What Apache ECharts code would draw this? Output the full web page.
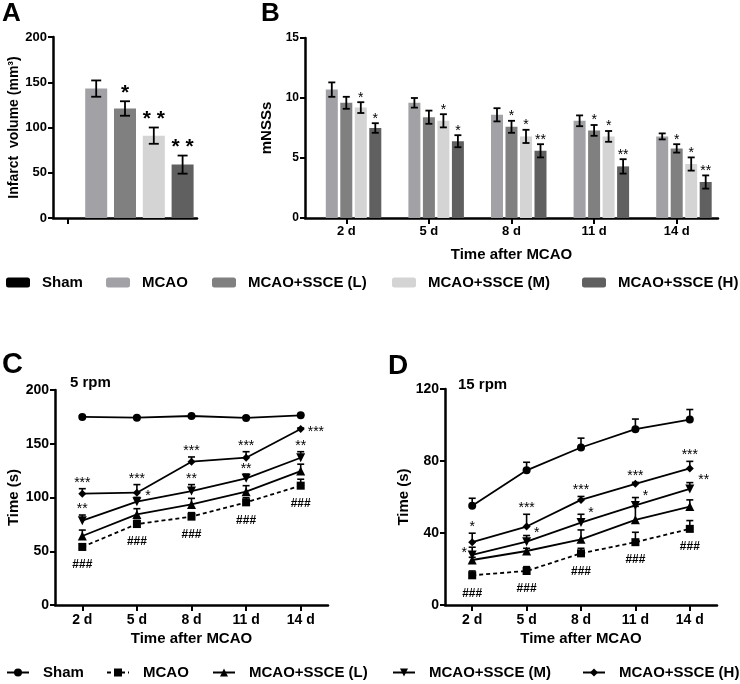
<!DOCTYPE html>
<html>
<head>
<meta charset="utf-8">
<script src="https://cdn.jsdelivr.net/npm/echarts@6/dist/echarts.min.js"></script>
<style>
html,body{margin:0;padding:0;background:#fff;}
#chart{width:740px;height:684px;}
</style>
</head>
<body>
<div id="chart"></div>
<script>
// ---------- DATA ----------
const groupNames = ['Sham', 'MCAO', 'MCAO+SSCE (L)', 'MCAO+SSCE (M)', 'MCAO+SSCE (H)'];
const days = ['2 d', '5 d', '8 d', '11 d', '14 d'];

// Panel A: infarct volume (mm3)
const infarctMean = [null, 143, 121, 91, 59];
const infarctErr  = [null, 9, 8, 9, 10];
const infarctSig  = ['', '', '*', '**', '**'];

// Panel B: mNSSs
const nssMCAO = [10.7, 9.6, 8.6, 8.1, 6.8];
const nssL    = [9.6, 8.4, 7.6, 7.3, 5.8];
const nssM    = [9.2, 8.1, 6.8, 6.8, 4.5];
const nssH    = [7.5, 6.4, 5.6, 4.3, 3.0];
const nssMCAOErr = [0.6, 0.4, 0.55, 0.45, 0.25];
const nssLErr    = [0.5, 0.55, 0.5, 0.45, 0.35];
const nssMErr    = [0.45, 0.55, 0.55, 0.45, 0.55];
const nssHErr    = [0.4, 0.5, 0.55, 0.6, 0.55];
const nssLSig = ['', '', '*', '*', '*'];
const nssMSig = ['*', '*', '*', '*', '*'];
const nssHSig = ['*', '*', '**', '**', '**'];

// Panel C: rotarod 5 rpm (s)
const rod5Sham = [175, 174.3, 175.8, 174, 176.4];
const rod5MCAO = [54, 75.3, 82.2, 95.5, 111];
const rod5L    = [64.2, 84.3, 93.6, 105.4, 124.6];
const rod5M    = [78.4, 96.1, 106, 117.8, 137];
const rod5H    = [103.6, 104.5, 133.3, 137, 163.7];
const rod5ShamErr = [1, 1, 1, 1, 1];
const rod5MCAOErr = [3, 3.5, 3.7, 4.3, 6];
const rod5LErr    = [5.5, 5.3, 5.6, 5.6, 6.4];
const rod5MErr    = [5.3, 4, 6, 4, 5.6];
const rod5HErr    = [4.6, 7.5, 4.4, 5.6, 1];
const rod5HSig    = ['***', '***', '***', '***', '***'];
const rod5MSig    = ['**', '*', '**', '**', '**'];
const rod5MCAOSig = ['###', '###', '###', '###', '###'];

// Panel D: rotarod 15 rpm (s)
const rod15Sham = [55.1, 74.8, 87.5, 97.7, 103];
const rod15MCAO = [16.5, 18.9, 28.7, 34.9, 42.3];
const rod15L    = [25, 30, 36.5, 47.3, 54.7];
const rod15M    = [27.8, 35.2, 45.8, 55.3, 64.5];
const rod15H    = [34.9, 43.6, 58.4, 67.3, 75.9];
const rod15ShamErr = [4.2, 4.5, 5.2, 5.6, 5.6];
const rod15MCAOErr = [2.4, 2.4, 2.8, 5.5, 4.6];
const rod15LErr    = [1.5, 1.5, 5.2, 7.5, 3.7];
const rod15MErr    = [4.3, 3.4, 4.6, 4.4, 3.5];
const rod15HErr    = [5, 6.8, 1.9, 0.8, 3.9];
const rod15HSig    = ['*', '***', '***', '***', '***'];
const rod15MSig    = ['*', '*', '*', '*', '**'];
const rod15MCAOSig = ['###', '###', '###', '###', '###'];

// Tick settings
const yA = {min: 0, max: 200, interval: 50};
const yB = {min: 0, max: 15, interval: 5};
const yC = {min: 0, max: 200, interval: 50};
const yD = {min: 0, max: 120, interval: 40};

// ---------- STYLE ----------
const FONT = '"Liberation Sans", Arial, Helvetica, sans-serif';
const barColors = ['#000000', '#a2a2a6', '#808080', '#d4d4d4', '#606060'];
const BAR_W = 12, BAR_GAP_PX = 2.5;

const chart = echarts.init(document.getElementById('chart'), null, {renderer: 'canvas'});

function yAxisBase(gi, cfg, name, gap, fs, labelFs, margin) {
  return Object.assign({
    type: 'value', gridIndex: gi, name: name, nameLocation: 'middle', nameGap: gap,
    nameTextStyle: {fontFamily: FONT, fontWeight: 'bold', fontSize: fs, color: '#000'},
    axisLine: {show: true, lineStyle: {color: '#000', width: 2.5}},
    axisTick: {show: true, length: 5, lineStyle: {color: '#000', width: 2}},
    axisLabel: {fontFamily: FONT, fontWeight: 'bold', fontSize: labelFs, color: '#000', margin: margin},
    splitLine: {show: false}
  }, cfg);
}
function xAxisBase(gi, data, name, gap, fs, labelFs, margin, showLabel) {
  return {
    type: 'category', gridIndex: gi, data: data, boundaryGap: true,
    name: name, nameLocation: 'middle', nameGap: gap,
    nameTextStyle: {fontFamily: FONT, fontWeight: 'bold', fontSize: fs, color: '#000'},
    axisLine: {show: true, lineStyle: {color: '#000', width: 2.5}},
    axisTick: {show: true, alignWithLabel: true, length: 6, lineStyle: {color: '#000', width: 2}},
    axisLabel: {show: showLabel, fontFamily: FONT, fontWeight: 'bold', fontSize: labelFs, color: '#000', margin: margin},
    splitLine: {show: false}
  };
}

const series = [];

// ----- line series (C, D) first so bottom legend uses them -----
const symDown = 'path://M0,0L10,0L5,9Z';
const lineDefs = [
  {name: 'Sham', sym: 'circle', size: 8, dash: 'solid'},
  {name: 'MCAO', sym: 'rect', size: 8, dash: [4, 3]},
  {name: 'MCAO+SSCE (L)', sym: 'triangle', size: 9, dash: 'solid'},
  {name: 'MCAO+SSCE (M)', sym: symDown, size: 9, dash: 'solid'},
  {name: 'MCAO+SSCE (H)', sym: 'diamond', size: 8, dash: 'solid'}
];
const cVals = [rod5Sham, rod5MCAO, rod5L, rod5M, rod5H];
const cErrs = [rod5ShamErr, rod5MCAOErr, rod5LErr, rod5MErr, rod5HErr];
const dVals = [rod15Sham, rod15MCAO, rod15L, rod15M, rod15H];
const dErrs = [rod15ShamErr, rod15MCAOErr, rod15LErr, rod15MErr, rod15HErr];

function addLines(axisIdx, vals) {
  lineDefs.forEach((d, k) => {
    series.push({
      type: 'line', name: d.name, xAxisIndex: axisIdx, yAxisIndex: axisIdx,
      data: vals[k], symbol: d.sym, symbolSize: d.size, showAllSymbol: true,
      lineStyle: {color: '#000', width: 1.8, type: d.dash},
      itemStyle: {color: '#000', borderWidth: 0},
      emphasis: {disabled: true}, animation: false, z: 3
    });
  });
}
addLines(2, cVals);
addLines(3, dVals);

// up-only error bars for lines
function addLineErr(axisIdx, vals, errs) {
  const data = [];
  vals.forEach((v, k) => v.forEach((y, i) => data.push([i, y, errs[k][i]])));
  series.push({
    type: 'custom', xAxisIndex: axisIdx, yAxisIndex: axisIdx, data: data, z: 2,
    silent: true, animation: false,
    renderItem: function (params, api) {
      const p0 = api.coord([api.value(0), api.value(1)]);
      const p1 = api.coord([api.value(0), api.value(1) + api.value(2)]);
      const hw = 3.5;
      const st = {stroke: '#000', lineWidth: 1.6};
      return {type: 'group', children: [
        {type: 'line', shape: {x1: p0[0], y1: p0[1], x2: p1[0], y2: p1[1]}, style: st},
        {type: 'line', shape: {x1: p1[0] - hw, y1: p1[1], x2: p1[0] + hw, y2: p1[1]}, style: st}
      ]};
    }
  });
}
addLineErr(2, cVals, cErrs);
addLineErr(3, dVals, dErrs);

// ----- Panel A bar -----
series.push({
  type: 'bar', xAxisIndex: 0, yAxisIndex: 0, barWidth: 22,
  data: infarctMean.map((v, i) => ({value: v == null ? '-' : v, itemStyle: {color: barColors[i]}})),
  emphasis: {disabled: true}, animation: false
});
series.push({
  type: 'custom', xAxisIndex: 0, yAxisIndex: 0, silent: true, animation: false, z: 4,
  data: infarctMean.map((v, i) => v == null ? [i, '-', '-'] : [i, v, infarctErr[i]]),
  renderItem: function (params, api) {
    if (isNaN(api.value(1))) return null;
    const x = api.value(0), v = api.value(1), e = api.value(2);
    const pT = api.coord([x, v + e]), pB = api.coord([x, v - e]);
    const hw = 5, st = {stroke: '#000', lineWidth: 1.8};
    return {type: 'group', children: [
      {type: 'line', shape: {x1: pT[0], y1: pT[1], x2: pB[0], y2: pB[1]}, style: st},
      {type: 'line', shape: {x1: pT[0] - hw, y1: pT[1], x2: pT[0] + hw, y2: pT[1]}, style: st},
      {type: 'line', shape: {x1: pB[0] - hw, y1: pB[1], x2: pB[0] + hw, y2: pB[1]}, style: st}
    ]};
  }
});
series.push({
  type: 'custom', xAxisIndex: 0, yAxisIndex: 0, silent: true, animation: false, z: 5,
  data: infarctMean.map((v, i) => v == null ? [i, 0, 0] : [i, v, infarctErr[i]]),
  renderItem: function (params, api) {
    const t = infarctSig[params.dataIndex];
    if (!t) return null;
    const p = api.coord([api.value(0), api.value(1) + api.value(2)]);
    return {type: 'text', x: p[0], y: p[1] - 13 + 0.22 * 22, style: {
      text: t.split('').join(' '), fontFamily: FONT, fontSize: 21, fontWeight: 'bold', fill: '#000',
      align: 'center', verticalAlign: 'middle'}};
  }
});

// ----- Panel B bars -----
const bVals = [[null, null, null, null, null], nssMCAO, nssL, nssM, nssH];
const bErrs = [null, nssMCAOErr, nssLErr, nssMErr, nssHErr];
const bSig = [null, null, nssLSig, nssMSig, nssHSig];
bVals.forEach((vals, k) => {
  series.push({
    type: 'bar', name: groupNames[k], xAxisIndex: 1, yAxisIndex: 1,
    barWidth: BAR_W, barGap: (BAR_GAP_PX / BAR_W * 100) + '%',
    data: vals.map(v => v == null ? '-' : v),
    itemStyle: {color: barColors[k]}, emphasis: {disabled: true}, animation: false
  });
});
function barOffset(k) {
  const n = 5, total = n * BAR_W + (n - 1) * BAR_GAP_PX;
  return -total / 2 + BAR_W / 2 + k * (BAR_W + BAR_GAP_PX);
}
for (let k = 1; k < 5; k++) {
  const data = bVals[k].map((v, i) => [i, v, bErrs[k][i]]);
  series.push({
    type: 'custom', xAxisIndex: 1, yAxisIndex: 1, silent: true, animation: false, z: 4,
    data: data,
    renderItem: (function (kk) { return function (params, api) {
      const x = api.value(0), v = api.value(1), e = api.value(2);
      const off = barOffset(kk);
      const pT = api.coord([x, v + e]), pB = api.coord([x, v - e]);
      const cx = pT[0] + off, hw = 3.5, st = {stroke: '#000', lineWidth: 1.8};
      const kids = [
        {type: 'line', shape: {x1: cx, y1: pT[1], x2: cx, y2: pB[1]}, style: st},
        {type: 'line', shape: {x1: cx - hw, y1: pT[1], x2: cx + hw, y2: pT[1]}, style: st},
        {type: 'line', shape: {x1: cx - hw, y1: pB[1], x2: cx + hw, y2: pB[1]}, style: st}
      ];
      const sig = bSig[kk] ? bSig[kk][params.dataIndex] : '';
      if (sig) kids.push({type: 'text', x: cx, y: pT[1] - 7.5 + 0.22 * 14, style: {
        text: sig, fontFamily: FONT, fontSize: 14, fill: '#000', align: 'center', verticalAlign: 'middle'}});
      return {type: 'group', children: kids};
    }; })(k)
  });
}

// ----- Annotations C/D -----
function annSeries(axisIdx, items) {
  return {
    type: 'custom', xAxisIndex: axisIdx, yAxisIndex: axisIdx, silent: true, animation: false, z: 6,
    data: items.map(it => [it.i, it.y]),
    renderItem: function (params, api) {
      const it = items[params.dataIndex];
      const p = api.coord([api.value(0), api.value(1)]);
      const fs = it.hash ? 12 : 14;
      return {type: 'text', x: p[0] + (it.dx || 0), y: p[1] + (it.dy || 0) + (it.hash ? 0 : 0.22 * fs), style: {
        text: it.t, fontFamily: FONT, fontSize: fs, fontWeight: it.hash ? 'bold' : 'normal', fill: '#000',
        align: it.align || 'center', verticalAlign: 'middle'}};
    }
  };
}
const annC = [];
rod5HSig.forEach((t, i) => {
  if (i === 4) annC.push({i: i, y: rod5H[i], t: t, dx: 7, dy: 0, align: 'left'});
  else annC.push({i: i, y: rod5H[i] + rod5HErr[i], t: t, dy: -9});
});
rod5MSig.forEach((t, i) => {
  if (i === 1) annC.push({i: i, y: rod5M[i], t: t, dx: 11, dy: -9});
  else annC.push({i: i, y: rod5M[i] + rod5MErr[i], t: t, dy: -8.5});
});
rod5MCAOSig.forEach((t, i) => annC.push({i: i, y: rod5MCAO[i], t: t, dy: 18, hash: true}));

const annD = [];
rod15HSig.forEach((t, i) => annD.push({i: i, y: rod15H[i] + rod15HErr[i], t: t, dy: -9}));
rod15MSig.forEach((t, i) => {
  if (i === 0) annD.push({i: i, y: rod15M[i], t: t, dx: -8, dy: -5});
  else annD.push({i: i, y: rod15M[i], t: t, dx: (i === 4 ? 14 : 10), dy: -12});
});
rod15MCAOSig.forEach((t, i) => annD.push({i: i, y: rod15MCAO[i], t: t, dy: 18, hash: true}));

series.push(annSeries(2, annC));
series.push(annSeries(3, annD));

// ----- Legends -----
const legLefts = [6, 106, 212, 392, 582];
const legends = [];
groupNames.forEach((n, k) => {
  legends.push({
    left: legLefts[k], top: 275, padding: 0, itemWidth: 24, itemHeight: 10, selectedMode: false,
    data: [{name: n, icon: 'roundRect', itemStyle: {color: barColors[k], borderWidth: 0}}],
    textStyle: {fontFamily: FONT, fontWeight: 'bold', fontSize: 15, color: '#000', padding: [0, 0, 0, 7]}
  });
  legends.push({
    left: legLefts[k], top: 665, padding: 0, itemWidth: 22, itemHeight: 10, selectedMode: false,
    data: [{name: n}],
    lineStyle: {width: 2},
    textStyle: {fontFamily: FONT, fontWeight: 'bold', fontSize: 15, color: '#000', padding: [0, 0, 0, 9]}
  });
});

const titleStyle = (fs) => ({fontFamily: FONT, fontWeight: 'bold', fontSize: fs, color: '#000'});
const option = {
  backgroundColor: '#fff',
  animation: false,
  title: [
    {text: 'A', left: 2, top: 1, textStyle: titleStyle(26), padding: 0},
    {text: 'B', left: 261, top: 1, textStyle: titleStyle(26), padding: 0},
    {text: 'C', left: 2, top: 350, textStyle: titleStyle(29), padding: 0},
    {text: 'D', left: 388, top: 352, textStyle: titleStyle(28), padding: 0},
    {text: '5 rpm', left: 70, top: 375, textStyle: titleStyle(15), padding: 0},
    {text: '15 rpm', left: 458, top: 377, textStyle: titleStyle(15), padding: 0}
  ],
  legend: legends,
  grid: [
    {left: 53, top: 37, width: 144, height: 181},
    {left: 305, top: 38, width: 413, height: 180},
    {left: 55, top: 390, width: 273, height: 215},
    {left: 445, top: 389, width: 272, height: 216}
  ],
  xAxis: [
    xAxisBase(0, groupNames, '', 0, 15, 12, 8, false),
    xAxisBase(1, days, 'Time after MCAO', 29, 15, 13, 7, true),
    xAxisBase(2, days, 'Time after MCAO', 26, 15, 14, 8, true),
    xAxisBase(3, days, 'Time after MCAO', 26, 15, 14, 8, true)
  ],
  yAxis: [
    yAxisBase(0, yA, 'Infarct  volume (mm³)', 30, 14, 13, 6),
    yAxisBase(1, yB, 'mNSSs', 23, 15, 12, 6),
    yAxisBase(2, yC, 'Time (s)', 31, 15, 14, 6),
    yAxisBase(3, yD, 'Time (s)', 30, 15, 14, 6)
  ],
  series: series
};
chart.setOption(option);
</script>
</body>
</html>
